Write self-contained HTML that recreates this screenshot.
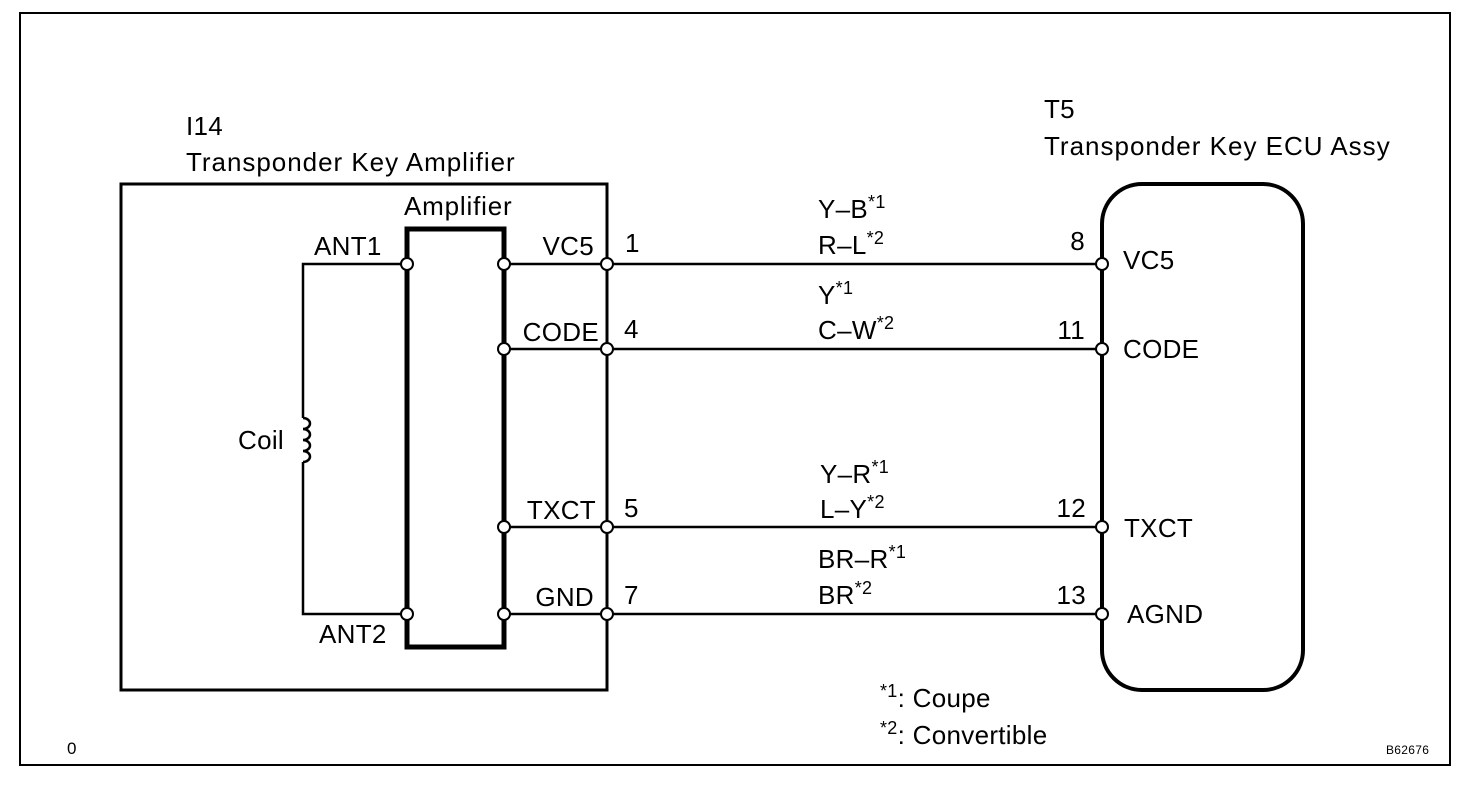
<!DOCTYPE html>
<html><head><style>
body{margin:0;background:#fff;}
svg text{font-family:"Liberation Sans",Arial,sans-serif;font-size:26px;fill:#000;letter-spacing:0.3px;}
.s{font-size:18px;}
</style></head><body>
<svg width="1472" height="794" viewBox="0 0 1472 794" xmlns="http://www.w3.org/2000/svg">
<rect x="20" y="13" width="1430" height="752" fill="none" stroke="#000" stroke-width="2"/>
<!-- left box -->
<rect x="121" y="184" width="486" height="506" fill="none" stroke="#000" stroke-width="3"/>
<rect x="407" y="229" width="97" height="418" fill="none" stroke="#000" stroke-width="5"/>
<!-- coil wiring -->
<polyline points="407,264 303,264 303,418" fill="none" stroke="#000" stroke-width="2.5"/>
<polyline points="303,462 303,614 407,614" fill="none" stroke="#000" stroke-width="2.5"/>
<path d="M303,418 a7,5.5 0 0 1 0,11 a7,5.5 0 0 1 0,11 a7,5.5 0 0 1 0,11 a7,5.5 0 0 1 0,11" fill="none" stroke="#000" stroke-width="2.5"/>
<!-- wires -->
<g stroke="#000" stroke-width="2.5">
<line x1="504" y1="264" x2="1102" y2="264"/>
<line x1="504" y1="349" x2="1102" y2="349"/>
<line x1="504" y1="527" x2="1102" y2="527"/>
<line x1="504" y1="614" x2="1102" y2="614"/>
</g>
<!-- right box -->
<rect x="1102" y="184" width="201" height="506" rx="40" ry="40" fill="none" stroke="#000" stroke-width="4"/>
<!-- pins -->
<g fill="#fff" stroke="#000" stroke-width="2">
<circle cx="407" cy="264" r="6"/><circle cx="407" cy="614" r="6"/>
<circle cx="504" cy="264" r="6"/><circle cx="504" cy="349" r="6"/><circle cx="504" cy="527" r="6"/><circle cx="504" cy="614" r="6"/>
<circle cx="607" cy="264" r="6"/><circle cx="607" cy="349" r="6"/><circle cx="607" cy="527" r="6"/><circle cx="607" cy="614" r="6"/>
<circle cx="1102" cy="264" r="6"/><circle cx="1102" cy="349" r="6"/><circle cx="1102" cy="527" r="6"/><circle cx="1102" cy="614" r="6"/>
</g>
<text x="186" y="135">I14</text>
<text x="186" y="171" textLength="329">Transponder Key Amplifier</text>
<text x="1044" y="118">T5</text>
<text x="1044" y="155" textLength="346">Transponder Key ECU Assy</text>
<text x="404" y="215" textLength="108">Amplifier</text>
<text x="314" y="255">ANT1</text>
<text x="319" y="643">ANT2</text>
<text x="238" y="449">Coil</text>
<text x="594" y="255" text-anchor="end">VC5</text>
<text x="599" y="341" text-anchor="end">CODE</text>
<text x="596" y="519" text-anchor="end">TXCT</text>
<text x="594" y="606" text-anchor="end">GND</text>
<text x="625" y="252">1</text>
<text x="624" y="338">4</text>
<text x="624" y="517">5</text>
<text x="624" y="604">7</text>
<text x="1085" y="250" text-anchor="end">8</text>
<text x="1085" y="339" text-anchor="end">11</text>
<text x="1086" y="517" text-anchor="end">12</text>
<text x="1086" y="604" text-anchor="end">13</text>
<text x="1123" y="269">VC5</text>
<text x="1123" y="358">CODE</text>
<text x="1124" y="537">TXCT</text>
<text x="1127" y="623">AGND</text>
<text x="818" y="218">Y–B<tspan class="s" dy="-10">*1</tspan></text>
<text x="818" y="254">R–L<tspan class="s" dy="-10">*2</tspan></text>
<text x="818" y="304">Y<tspan class="s" dy="-10">*1</tspan></text>
<text x="818" y="339">C–W<tspan class="s" dy="-10">*2</tspan></text>
<text x="820" y="483">Y–R<tspan class="s" dy="-10">*1</tspan></text>
<text x="820" y="518">L–Y<tspan class="s" dy="-10">*2</tspan></text>
<text x="818" y="568">BR–R<tspan class="s" dy="-10">*1</tspan></text>
<text x="818" y="604">BR<tspan class="s" dy="-10">*2</tspan></text>
<text x="880" y="707"><tspan class="s" dy="-10">*1</tspan><tspan dy="10">: Coupe</tspan></text>
<text x="880" y="744"><tspan class="s" dy="-10">*2</tspan><tspan dy="10">: Convertible</tspan></text>
<text x="67" y="754" style="font-size:17px">0</text>
<text x="1386" y="754" style="font-size:12px">B62676</text>
</svg>
</body></html>
